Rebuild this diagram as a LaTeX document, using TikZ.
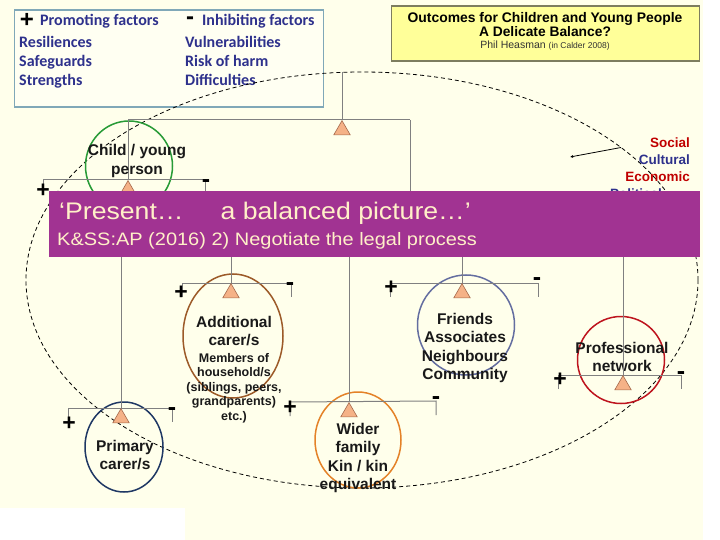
\documentclass[tikz,border=0pt]{standalone}
\usepackage{fontspec}
\setmainfont{Liberation Sans}
\newfontfamily\legfont{Carlito}
\newfontfamily\bannerfont{Liberation Sans}[FakeStretch=1.11]
\usepackage{tikz}
\usetikzlibrary{arrows.meta,positioning,shapes.geometric}

\definecolor{bgcream}{RGB}{255,255,235}
\definecolor{legfill}{RGB}{255,255,242}
\definecolor{legline}{RGB}{128,168,184}
\definecolor{legnavy}{RGB}{46,49,140}
\definecolor{titlefill}{RGB}{255,255,153}
\definecolor{titleline}{RGB}{125,125,95}
\definecolor{bannerpurple}{RGB}{161,51,146}
\definecolor{bannertext}{RGB}{255,240,200}
\definecolor{pivotfill}{RGB}{245,178,135}
\definecolor{pivotline}{RGB}{165,105,75}
\definecolor{pestred}{RGB}{192,0,0}
\definecolor{ringgreen}{RGB}{40,155,55}
\definecolor{ringbrown}{RGB}{156,90,40}
\definecolor{ringnavy}{RGB}{31,56,100}
\definecolor{ringorange}{RGB}{228,130,40}
\definecolor{ringslate}{RGB}{100,110,160}
\definecolor{ringred}{RGB}{190,20,30}

\begin{document}
\begin{tikzpicture}[x=1pt, y=-1pt,
    beam/.style={draw=black!50, line width=1pt},
    hang/.style={draw=black!50, line width=0.9pt},
    pivot/.style={regular polygon, regular polygon sides=3, minimum size=19pt, inner sep=0pt, anchor=corner 1, fill=pivotfill, draw=pivotline, line width=0.6pt},
    ring/.style={ellipse, draw, line width=1.5pt, inner sep=0pt},
    who/.style={align=center, text=black!90, font=\bfseries\fontsize{15.5}{18.5}\selectfont},
    note/.style={align=center, text=black!90, font=\bfseries\fontsize{12.5}{14.5}\selectfont},
    plus/.style={inner sep=0pt, font=\bfseries\fontsize{23}{23}\selectfont},
    minus/.style={inner sep=0pt, font=\bfseries\fontsize{25}{25}\selectfont},
    leg/.style={anchor=base west, inner sep=0pt, text=legnavy, font=\legfont\bfseries\fontsize{16}{16}\selectfont},
    pest/.style={anchor=base east, inner sep=0pt, font=\bfseries\fontsize{13.5}{13.5}\selectfont}
]
\useasboundingbox (0,0) rectangle (720,540);
\fill[white] (0,0) rectangle (720,540);
\fill[bgcream] (0,0) rectangle (703,508);
\fill[bgcream] (185,508) rectangle (703,540);

% legend
\node[draw=legline, line width=1.8pt, fill=legfill, minimum width=309pt, minimum height=97pt, inner sep=0pt, anchor=north west] (legend) at (13.5,9) {};
\node[plus, font=\bfseries\fontsize{24}{24}\selectfont] (legplus) at (27,20) {+};
\node[leg] (promo) at (40,26) {Promoting factors};
\node[minus, font=\bfseries\fontsize{24}{24}\selectfont] (legminus) at (190,21) {-};
\node[leg] (inhib) at (202,26) {Inhibiting factors};
\node[leg] (resil) at (19,48) {Resiliences};
\node[leg] (safe) at (19,67) {Safeguards};
\node[leg] (stren) at (19,86) {Strengths};
\node[leg] (vuln) at (185,48) {Vulnerabilities};
\node[leg] (risk) at (185,67) {Risk of harm};
\node[leg] (diff) at (185,86) {Difficulties};

% title
\node[draw=titleline, line width=1.2pt, fill=titlefill, minimum width=308pt, minimum height=55pt, inner sep=0pt, anchor=north west] (titlebox) at (391,5.5) {};
\node[anchor=base, inner sep=0pt, font=\bfseries\fontsize{13.9}{14}\selectfont] (outc) at (545,23) {Outcomes for Children and Young People};
\node[anchor=base, inner sep=0pt, font=\bfseries\fontsize{13.8}{14}\selectfont] (delic) at (545,37) {A Delicate Balance?};
\node[anchor=base, inner sep=0pt, text=black!80] (heas) at (545,49) {\fontsize{10.5}{11}\selectfont Phil Heasman \fontsize{8.5}{9}\selectfont(in Calder 2008)};

% dashed surround
\draw[dashed, dash pattern=on 4pt off 3pt, line width=0.8pt] (362,280) ellipse [x radius=336, y radius=208];
\coordinate (hook) at (342,72);
\coordinate (edge) at (621,147.5);
\coordinate (tip) at (570,157);
\draw[line width=0.8pt, -{Latex[length=3pt,width=3pt]}] (edge) -- (tip);
\node[pest, text=pestred] (social) at (690,148) {Social};
\node[pest, text=legnavy] (cultural) at (690,165) {Cultural};
\node[pest, text=pestred] (economic) at (690,182) {Economic};
\node[pest, text=legnavy] (political) at (662,199) {Political};

% rings
\node[ring, draw=ringgreen, minimum width=87pt, minimum height=90pt] (childring) at (129,166) {};
\node[ring, draw=ringbrown, minimum width=100pt, minimum height=124pt] (addring) at (233,336) {};
\node[ring, draw=ringnavy, minimum width=78pt, minimum height=90pt] (primring) at (124,447) {};
\node[ring, draw=ringorange, minimum width=86pt, minimum height=96pt] (widering) at (358,440) {};
\node[ring, draw=ringslate, minimum width=97pt, minimum height=100pt] (friendring) at (466,325) {};
\node[ring, draw=ringred, minimum width=87pt, minimum height=87pt] (profring) at (621,360) {};

% top beam
\coordinate (topL) at (128,120);
\coordinate (topR) at (410,120);
\draw[beam] (topL) -- (topR);
\node[pivot] (toppiv) at (342,120) {};
\draw[hang] (hook) -- (toppiv.corner 1);

% child beam
\coordinate (childL) at (43,180);
\coordinate (childR) at (205,180);
\draw[beam] ([yshift=-14pt]childL) -- (childL) -- (childR) -- ([yshift=-14pt]childR);
\node[pivot] (childpiv) at (128,180) {};
\draw[hang] (topL) -- (childpiv.corner 1);
\node[plus] (childplus) at (43,191) {+};
\node[minus] (childminus) at (206,184) {-};

% additional carers
\coordinate (addL) at (182,283);
\coordinate (addR) at (291,283);
\draw[beam] ([yshift=-14pt]addL) -- (addL) -- (addR) -- ([yshift=-14pt]addR);
\node[pivot] (addpiv) at (231,283) {};
\node[plus] (addplus) at (181,293) {+};
\node[minus] (addminus) at (290,287) {-};

% primary carers
\coordinate (primL) at (68,408);
\coordinate (primR) at (172,408);
\draw[beam] ([yshift=-14pt]primL) -- (primL) -- (primR) -- ([yshift=-14pt]primR);
\node[pivot] (primpiv) at (121,408) {};
\node[plus] (primplus) at (69,424) {+};
\node[minus] (primminus) at (172,412) {-};

% wider family
\coordinate (wideL) at (290,402);
\coordinate (wideR) at (436,401);
\draw[beam] ([yshift=-14pt]wideL) -- (wideL) -- (wideR) -- ([yshift=-14pt]wideR);
\node[pivot] (widepiv) at (349,402) {};
\node[plus] (wideplus) at (290,408) {+};
\node[minus] (wideminus) at (436,401) {-};

% friends
\coordinate (friendL) at (390,283);
\coordinate (friendR) at (538,283);
\draw[beam] ([yshift=-14pt]friendL) -- (friendL) -- (friendR) -- ([yshift=-14pt]friendR);
\node[pivot] (friendpiv) at (462,283) {};
\node[plus] (friendplus) at (391,288) {+};
\node[minus] (friendminus) at (537,282) {-};

% professional
\coordinate (profL) at (558,375);
\coordinate (profR) at (681,375);
\draw[beam] ([yshift=-14pt]profL) -- (profL) -- (profR) -- ([yshift=-14pt]profR);
\node[pivot] (profpiv) at (623,375) {};
\node[plus] (profplus) at (560,380) {+};
\node[minus] (profminus) at (681,376) {-};

% labels
\node[who] (childtxt) at (137,161) {Child / young\\person};
\node[who] (addtxt) at (234,331) {Additional\\carer/s};
\node[note] (addnote) at (234,388) {Members of\\household/s\\(siblings, peers,\\grandparents)\\etc.)};
\node[who] (primtxt) at (125,455) {Primary\\carer/s};
\node[who] (widetxt) at (358,458) {Wider\\family\\Kin / kin\\equivalent};
\node[who] (friendtxt) at (465,348) {Friends\\Associates\\Neighbours\\Community};
\node[who] (proftxt) at (622,357) {Professional\\network};

% banner
\node[fill=bannerpurple, minimum width=651pt, minimum height=66pt, inner sep=0pt, anchor=north west] (banner) at (49,191) {};
\draw[hang] (topR) -- (topR |- banner.north);
\draw[hang] (banner.south -| addpiv) -- (addpiv.corner 1);
\draw[hang] (banner.south -| primpiv) -- (primpiv.corner 1);
\draw[hang] (banner.south -| widepiv) -- (widepiv.corner 1);
\draw[hang] (banner.south -| friendpiv) -- (friendpiv.corner 1);
\draw[hang] (banner.south -| profpiv) -- (profpiv.corner 1);
\node[anchor=base west, inner sep=0pt, text=bannertext, font=\bannerfont\fontsize{24}{24}\selectfont] (present) at (59,220) {‘Present…\hspace{37pt}a balanced picture…’};
\node[anchor=base west, inner sep=0pt, text=bannertext, font=\bannerfont\fontsize{18}{18}\selectfont] (ksap) at (57,245) {K\&SS:AP (2016) 2) Negotiate the legal process};
\end{tikzpicture}
\end{document}
